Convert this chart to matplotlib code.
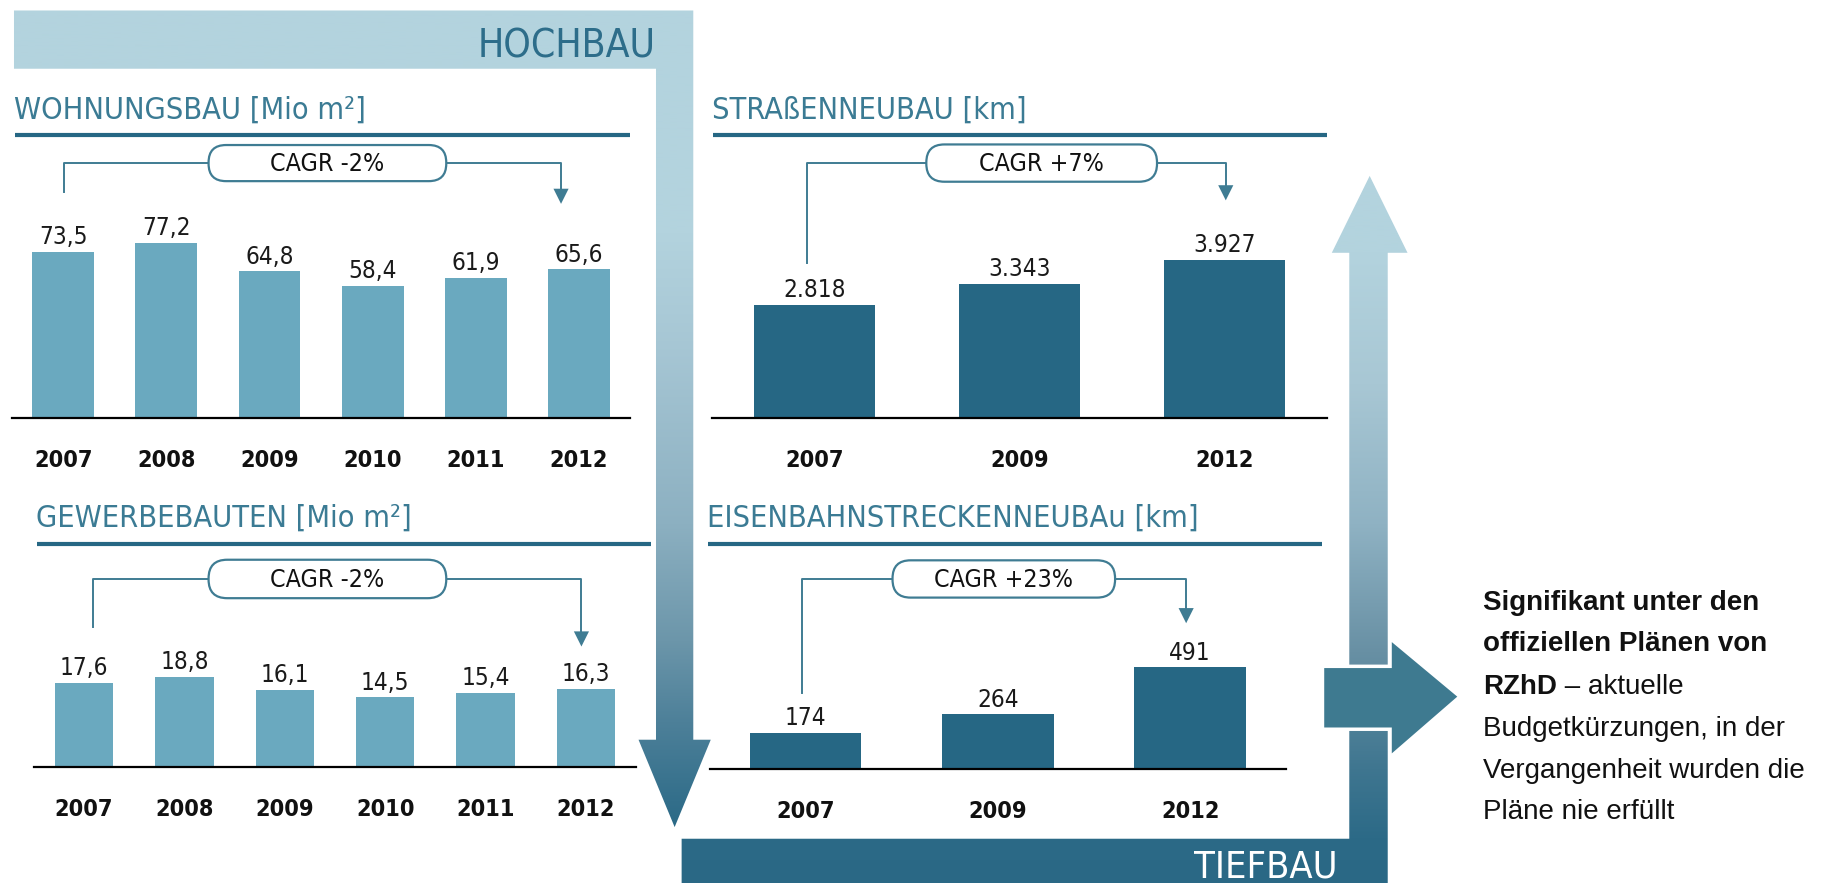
import numpy as np
import matplotlib
matplotlib.use("Agg")
import matplotlib.pyplot as plt
from matplotlib import font_manager, colors as mcolors
from matplotlib.patches import Polygon, FancyBboxPatch

# Daten
jahre_hochbau = ["2007", "2008", "2009", "2010", "2011", "2012"]
wohnungsbau = [73.5, 77.2, 64.8, 58.4, 61.9, 65.6]
gewerbebauten = [17.6, 18.8, 16.1, 14.5, 15.4, 16.3]
jahre_tiefbau = ["2007", "2009", "2012"]
strassenneubau = [2818, 3343, 3927]
eisenbahn = [174, 264, 491]

titel = ["WOHNUNGSBAU [Mio m²]", "GEWERBEBAUTEN [Mio m²]",
         "STRAßENNEUBAU [km]", "EISENBAHNSTRECKENNEUBAu [km]"]
cagr_texte = ["CAGR -2%", "CAGR -2%", "CAGR +7%", "CAGR +23%"]

# Schriften: schmale Schrift suchen
liste = font_manager.fontManager.ttflist
vorhanden = {f.name for f in liste}


def hat_schmal(fam):
    return any(f.name == fam and str(f.stretch) in ("condensed", "semi-condensed", "extra-condensed")
               for f in liste)


if "Liberation Sans Narrow" in vorhanden:
    SCHMAL, STRETCH, K = "Liberation Sans Narrow", "normal", 1.0
elif hat_schmal("Noto Sans"):
    SCHMAL, STRETCH, K = "Noto Sans", "condensed", 0.92
elif hat_schmal("DejaVu Sans"):
    SCHMAL, STRETCH, K = "DejaVu Sans", "condensed", 0.8
elif hat_schmal("Open Sans"):
    SCHMAL, STRETCH, K = "Open Sans", "condensed", 0.95
elif "Roboto" in vorhanden:
    SCHMAL, STRETCH, K = "Roboto", "normal", 0.84
else:
    SCHMAL, STRETCH, K = "DejaVu Sans", "normal", 0.75
NORMAL = "Liberation Sans" if "Liberation Sans" in vorhanden else "DejaVu Sans"
SF = dict(family=SCHMAL, fontstretch=STRETCH)

HELL = "#b3d3de"
DUNKEL = "#266784"
TITEL = "#3b7b94"
LINIE = "#3f7c93"
BALKEN_HELL = "#6aa9bf"
BALKEN_DUNKEL = "#266784"
PFEIL = "#3e7a90"

W, H = 1568, 758
fig = plt.figure(figsize=(18.27, 8.83), dpi=100)
ov = fig.add_axes([0, 0, 1, 1])
ov.set_xlim(0, W)
ov.set_ylim(H, 0)
ov.axis("off")


def verlauf(punkte, stops):
    ys_stop = [s[0] for s in stops]
    rgb = [mcolors.to_rgb(s[1]) for s in stops]
    ys = np.linspace(0, H, 1000)
    img = np.stack([np.interp(ys, ys_stop, [c[i] for c in rgb]) for i in range(3)], axis=-1)[:, None, :]
    form = Polygon(punkte, closed=True, fc="none", ec="none")
    ov.add_patch(form)
    im = ov.imshow(img, extent=(0, W, H, 0), aspect="auto", interpolation="bilinear", zorder=1)
    im.set_clip_path(form)


# HOCHBAU-Pfeil nach unten
verlauf([(12, 9), (595, 9), (595, 635), (610, 635), (579, 710), (548, 635),
         (563, 635), (563, 59), (12, 59)],
        [(0, HELL), (200, HELL), (300, "#a6c6d4"), (450, "#8cb0c1"),
         (550, "#6c96aa"), (620, "#4d8099"), (712, "#2a6986")])
# TIEFBAU-Pfeil nach oben
verlauf([(585, 720), (1158, 720), (1158, 217), (1143, 217), (1175.5, 151),
         (1208, 217), (1191, 217), (1191, 760), (585, 760)],
        [(0, HELL), (217, HELL), (330, "#a8c7d4"), (450, "#8fb2c3"),
         (560, "#6890a4"), (660, "#3f7690"), (720, "#2c6a87"), (H, "#2a6885")])
ov.set_xlim(0, W)
ov.set_ylim(H, 0)

# Pfeil nach rechts
ov.add_patch(Polygon([(1135, 572), (1193, 572), (1193, 548), (1253, 598),
                      (1193, 650), (1193, 626), (1135, 626)],
                     closed=True, fc=PFEIL, ec="white", lw=2.5, zorder=3))

ov.text(563, 49, "HOCHBAU", ha="right", va="baseline", fontsize=35 * K,
        color="#2d6d8a", zorder=5, **SF)
ov.text(1148, 753, "TIEFBAU", ha="right", va="baseline", fontsize=34 * K,
        color="white", zorder=5, **SF)

# Titel und Linien
for (x0, x1, yb, yl), t in zip([(12, 541, 101.5, 116), (31, 559, 452, 467),
                                 (611, 1139, 101.5, 116), (607, 1135, 452, 467)], titel):
    ov.text(x0, yb, t, ha="left", va="baseline", fontsize=27.5 * K, color=TITEL, **SF)
    ov.plot([x0 + 1, x1], [yl, yl], color=DUNKEL, lw=3, solid_capstyle="butt")


def cagr(text, box_l, box_r, y, h, xl, yl, xr, tip):
    ov.plot([xl, xl, box_l], [yl, y, y], color=LINIE, lw=1.4, zorder=4)
    ov.plot([box_r, xr, xr], [y, y, tip - 12], color=LINIE, lw=1.4, zorder=4)
    ov.add_patch(Polygon([(xr - 6.5, tip - 13), (xr + 6.5, tip - 13), (xr, tip)],
                         closed=True, fc=LINIE, ec="none", zorder=4))
    ov.add_patch(FancyBboxPatch((box_l, y - h / 2), box_r - box_l, h,
                                boxstyle=f"round,pad=0,rounding_size={h / 2 - 0.5}",
                                fc="white", ec=LINIE, lw=1.6, zorder=5))
    ov.text((box_l + box_r) / 2, y + 1, text, ha="center", va="center",
            fontsize=22.4 * K, color="#111111", zorder=6, **SF)


cagr(cagr_texte[0], 179, 383, 140, 31, 55, 165, 481.5, 175)
cagr(cagr_texte[1], 179, 383, 497, 33, 80, 538, 499, 555)
cagr(cagr_texte[2], 795, 993, 140, 32, 693, 226, 1052, 172)
cagr(cagr_texte[3], 766, 957, 497, 32, 688, 595, 1018, 535)


def komma(v):
    return f"{v:.1f}".replace(".", ",")


def tausend(v):
    return f"{v:,}".replace(",", ".")


def diagramm(links, rechts, oben, basis, jahre, werte, farbe, breite, ymax, fmt):
    ax = fig.add_axes([links / W, 1 - basis / H, (rechts - links) / W, (basis - oben) / H])
    ax.patch.set_alpha(0)
    x = np.arange(len(werte))
    balken = ax.bar(x, werte, width=breite, color=farbe, zorder=2)
    ax.bar_label(balken, labels=[fmt(v) for v in werte], padding=2,
                 fontsize=21.8 * K, color="#1a1a1a", **SF)
    ax.set_xlim(-0.5, len(werte) - 0.5)
    ax.set_ylim(0, ymax)
    ax.set_xticks(x, jahre, fontsize=21 * K, fontweight="bold", color="#111111", **SF)
    ax.tick_params(axis="x", length=0, pad=22.5)
    ax.set_yticks([])
    for s in ["top", "left", "right"]:
        ax.spines[s].set_visible(False)
    ax.spines["bottom"].set_linewidth(1.6)
    ax.spines["bottom"].set_color("black")
    ax.spines["bottom"].set_zorder(3)
    return ax


diagramm(10, 541, 160, 359, jahre_hochbau, wohnungsbau, BALKEN_HELL, 0.6, 199 / 1.946, komma)
diagramm(29, 546, 540, 658, jahre_hochbau, gewerbebauten, BALKEN_HELL, 0.58, 118 / 4.09, komma)
diagramm(611, 1139, 160, 358.5, jahre_tiefbau, strassenneubau, BALKEN_DUNKEL, 0.59, 198.5 / 0.0344, tausend)
diagramm(609, 1104, 520, 660, jahre_tiefbau, eisenbahn, BALKEN_DUNKEL, 0.58, 140 / 0.1772, str)

# Fazit rechts
tx = 1273
ov.text(tx, 518, "Signifikant unter den", fontsize=20, fontweight="bold", family=NORMAL,
        va="center", color="#111111")
ov.text(tx, 553, "offiziellen Plänen von", fontsize=20, fontweight="bold", family=NORMAL,
        va="center", color="#111111")
t = ov.text(tx, 590, "RZhD", fontsize=20, fontweight="bold", family=NORMAL,
            va="center", color="#111111")
ov.annotate(" – aktuelle", xy=(1, 0), xycoords=t, ha="left", va="bottom",
            fontsize=20, family=NORMAL, color="#111111")
for y, zeile in zip([626, 662, 697], ["Budgetkürzungen, in der",
                                      "Vergangenheit wurden die",
                                      "Pläne nie erfüllt"]):
    ov.text(tx, y, zeile, fontsize=20, family=NORMAL, va="center", color="#111111")

fig.savefig("out.png", dpi=100)
